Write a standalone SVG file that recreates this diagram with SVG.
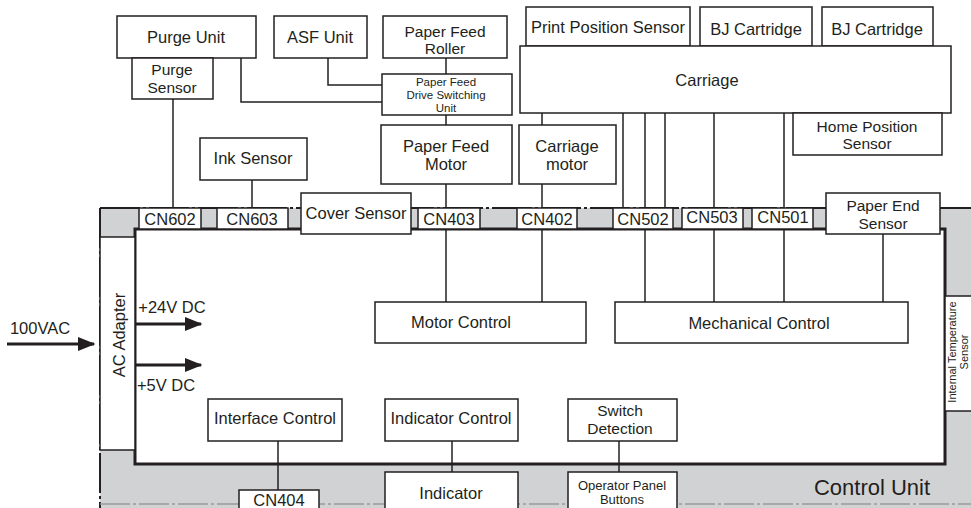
<svg xmlns="http://www.w3.org/2000/svg" width="971" height="508" viewBox="0 0 971 508">
<defs>
<style>
.b{fill:#fff;stroke:#231f20;stroke-width:1.5}
.t{font-family:"Liberation Sans",Arial,sans-serif;font-size:16.5px;fill:#231f20;text-anchor:middle}
.d{font-size:15.5px}
.s{font-size:11.5px}
.m{font-size:13px}
.x{font-size:11px}
.c{stroke:#231f20;stroke-width:1.5;fill:none}
.a{stroke:#231f20;stroke-width:3;fill:none}
</style>
<marker id="ah" markerWidth="6" markerHeight="6" refX="5.5" refY="3" orient="auto" markerUnits="strokeWidth" viewBox="0 0 6 6">
<path d="M0,0.6 L6,3 L0,5.4 Z" fill="#231f20"/>
</marker>
</defs>
<rect width="971" height="508" fill="#fff"/>

<g id="control-unit">
<rect x="100" y="208" width="880" height="310" fill="#d1d2d4"/>
<line x1="100" y1="208" x2="971" y2="208" stroke="#231f20" stroke-width="2" stroke-dasharray="40 3 3 3"/>
<line x1="100" y1="208" x2="100" y2="508" stroke="#231f20" stroke-width="2" stroke-dasharray="40 3 3 3"/>
<line x1="100" y1="504" x2="971" y2="504" stroke="#9a9a9a" stroke-width="1.5" stroke-dasharray="30 3 3 3"/>
<text class="t" x="872" y="495" style="font-size:22px">Control Unit</text>
</g>

<g id="main-board">
<rect x="135" y="229" width="810" height="235" fill="#fff" stroke="#231f20" stroke-width="3"/>
</g>

<g id="ac-adapter">
<rect x="100" y="237" width="35" height="213" class="b"/>
<text class="t" transform="translate(119,335) rotate(-90)" x="0" y="6">AC Adapter</text>
</g>

<g id="internal-temperature-sensor">
<rect x="945" y="296" width="32" height="115" class="b"/>
<text class="t x" transform="translate(958,352) rotate(-90)" x="0" y="-2">Internal Temperature</text>
<text class="t x" transform="translate(958,352) rotate(-90)" x="0" y="10">Sensor</text>
</g>

<g id="connectors">
<line class="c" x1="173" y1="99" x2="173" y2="208"/>
<polyline class="c" points="241,58 241,102 382,102"/>
<polyline class="c" points="328,58 328,85 382,85"/>
<line class="c" x1="446" y1="58" x2="446" y2="74"/>
<line class="c" x1="446" y1="115" x2="446" y2="125"/>
<line class="c" x1="446" y1="184" x2="446" y2="302"/>
<line class="c" x1="252" y1="180" x2="252" y2="208"/>
<line class="c" x1="542" y1="113" x2="542" y2="125"/>
<line class="c" x1="542" y1="184" x2="542" y2="302"/>
<line class="c" x1="623" y1="113" x2="623" y2="208"/>
<line class="c" x1="645" y1="113" x2="645" y2="302"/>
<line class="c" x1="665" y1="113" x2="665" y2="208"/>
<line class="c" x1="714" y1="113" x2="714" y2="302"/>
<line class="c" x1="784" y1="113" x2="784" y2="302"/>
<line class="c" x1="883" y1="234" x2="883" y2="302"/>
<line class="c" x1="278" y1="441" x2="278" y2="490"/>
<line class="c" x1="452" y1="441" x2="452" y2="472"/>
<line class="c" x1="619" y1="441" x2="619" y2="472"/>
<line class="a" x1="7" y1="344" x2="94" y2="344" marker-end="url(#ah)"/>
<line class="a" x1="135" y1="324" x2="201" y2="324" marker-end="url(#ah)"/>
<line class="a" x1="135" y1="365" x2="201" y2="365" marker-end="url(#ah)"/>
</g>

<g id="labels">
<text class="t" x="40" y="334">100VAC</text>
<text class="t" x="172" y="313">+24V DC</text>
<text class="t" x="166" y="391">+5V DC</text>
</g>

<g id="purge-unit"><rect x="117" y="16" width="139" height="42" class="b"/><text class="t" x="186" y="43">Purge Unit</text></g>
<g id="purge-sensor"><rect x="132" y="58" width="81" height="41" class="b"/><text class="t d" x="172" y="75">Purge</text><text class="t d" x="172" y="93">Sensor</text></g>
<g id="asf-unit"><rect x="274" y="16" width="93" height="42" class="b"/><text class="t" x="320" y="43">ASF Unit</text></g>
<g id="paper-feed-roller"><rect x="383" y="16" width="124" height="42" class="b"/><text class="t d" x="445" y="37">Paper Feed</text><text class="t d" x="445" y="54">Roller</text></g>
<g id="paper-feed-drive-switching-unit"><rect x="382" y="74" width="130" height="41" class="b"/><text class="t s" x="446" y="86">Paper Feed</text><text class="t s" x="446" y="99">Drive Switching</text><text class="t s" x="446" y="112">Unit</text></g>
<g id="paper-feed-motor"><rect x="381" y="125" width="131" height="59" class="b"/><text class="t" x="446" y="152">Paper Feed</text><text class="t" x="446" y="170">Motor</text></g>
<g id="carriage-motor"><rect x="519" y="125" width="97" height="59" class="b"/><text class="t" x="567" y="152">Carriage</text><text class="t" x="567" y="170">motor</text></g>
<g id="ink-sensor"><rect x="200" y="138" width="107" height="42" class="b"/><text class="t" x="253" y="164">Ink Sensor</text></g>
<g id="print-position-sensor"><rect x="526" y="7" width="164" height="39" class="b"/><text class="t" x="608" y="33">Print Position Sensor</text></g>
<g id="bj-cartridge-1"><rect x="700" y="7" width="112" height="39" class="b"/><text class="t" x="756" y="35">BJ Cartridge</text></g>
<g id="bj-cartridge-2"><rect x="822" y="7" width="111" height="39" class="b"/><text class="t" x="877" y="35">BJ Cartridge</text></g>
<g id="carriage"><rect x="520" y="46" width="431" height="67" class="b"/><text class="t" x="707" y="86">Carriage</text></g>
<g id="home-position-sensor"><rect x="793" y="113" width="149" height="42" class="b"/><text class="t d" x="867" y="132">Home Position</text><text class="t d" x="867" y="149">Sensor</text></g>

<g id="cn602"><rect x="139" y="208" width="62" height="21" class="b"/><text class="t" x="170" y="225">CN602</text></g>
<g id="cn603"><rect x="217" y="208" width="71" height="21" class="b"/><text class="t" x="252" y="225">CN603</text></g>
<g id="cover-sensor"><rect x="301" y="193" width="110" height="41" class="b"/><text class="t" x="356" y="219">Cover Sensor</text></g>
<g id="cn403"><rect x="418" y="208" width="62" height="21" class="b"/><text class="t" x="449" y="225">CN403</text></g>
<g id="cn402"><rect x="517" y="208" width="60" height="21" class="b"/><text class="t" x="547" y="225">CN402</text></g>
<g id="cn502"><rect x="613" y="208" width="60" height="21" class="b"/><text class="t" x="643" y="225">CN502</text></g>
<g id="cn503"><rect x="682" y="208" width="61" height="21" class="b"/><text class="t" x="712" y="223">CN503</text></g>
<g id="cn501"><rect x="752" y="208" width="61" height="21" class="b"/><text class="t" x="783" y="223">CN501</text></g>
<g id="paper-end-sensor"><rect x="826" y="193" width="114" height="41" class="b"/><text class="t d" x="883" y="211">Paper End</text><text class="t d" x="883" y="229">Sensor</text></g>

<g id="motor-control"><rect x="375" y="302" width="211" height="41" class="b"/><text class="t" x="461" y="328">Motor Control</text></g>
<g id="mechanical-control"><rect x="615" y="302" width="293" height="41" class="b"/><text class="t" x="759" y="329">Mechanical Control</text></g>
<g id="interface-control"><rect x="208" y="399" width="134" height="42" class="b"/><text class="t" x="275" y="424">Interface Control</text></g>
<g id="indicator-control"><rect x="385" y="399" width="133" height="42" class="b"/><text class="t" x="451" y="424">Indicator Control</text></g>
<g id="switch-detection"><rect x="568" y="399" width="109" height="42" class="b"/><text class="t d" x="620" y="416">Switch</text><text class="t d" x="620" y="434">Detection</text></g>
<g id="cn404"><rect x="239" y="490" width="80" height="30" class="b"/><text class="t" x="279" y="506">CN404</text></g>
<g id="indicator"><rect x="385" y="472" width="133" height="48" class="b"/><text class="t" x="451" y="499">Indicator</text></g>
<g id="operator-panel-buttons"><rect x="568" y="472" width="109" height="48" class="b"/><text class="t m" x="622" y="490">Operator Panel</text><text class="t m" x="622" y="504">Buttons</text></g>
</svg>
